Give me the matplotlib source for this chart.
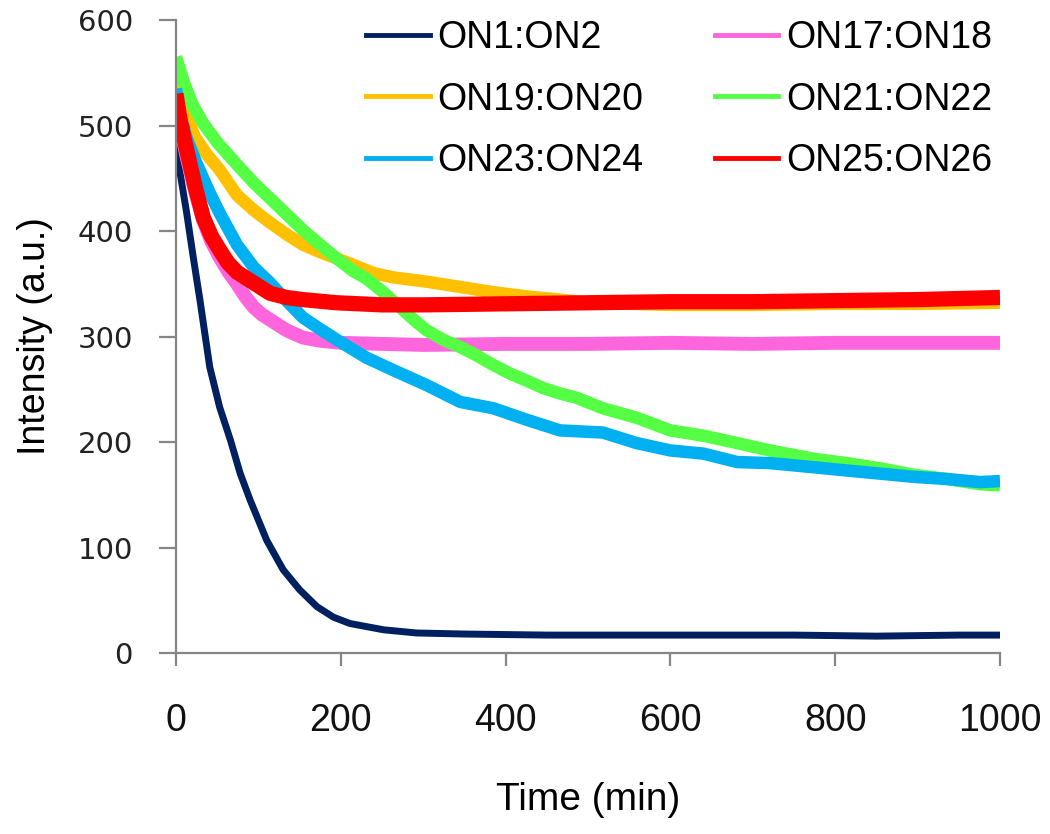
import matplotlib
matplotlib.use('Agg')
import matplotlib.pyplot as plt
from matplotlib.lines import Line2D

# Dados (tempo em min, intensidade em u.a.)
on1_t = [0, 5, 13, 21, 29, 41, 53, 66, 78, 90, 110, 130, 150, 171, 191, 211, 252, 292, 350, 450, 550, 650, 750, 850, 950, 1000]
on1_v = [489, 455, 417, 375, 335, 271, 233, 202, 170, 145, 107, 79, 60, 44, 34, 28, 22, 19, 18, 17, 17, 17, 17, 16, 17, 17]

on17_t = [0, 5, 13, 23, 33, 43, 53, 63, 74, 84, 94, 104, 114, 134, 154, 175, 200, 250, 300, 400, 500, 600, 700, 800, 900, 1000]
on17_v = [525, 500, 470, 438, 410, 390, 375, 362, 350, 338, 328, 321, 316, 306, 299, 296, 294, 293, 292, 293, 293, 294, 293, 294, 294, 294]

on19_t = [0, 10, 23, 38, 53, 74, 94, 114, 134, 154, 175, 195, 215, 240, 264, 304, 345, 385, 426, 466, 500, 600, 700, 800, 900, 1000]
on19_v = [545, 515, 489, 472, 458, 434, 420, 408, 397, 387, 380, 374, 368, 360, 356, 352, 347, 342, 338, 335, 332, 330, 330, 331, 331, 332]

on21_t = [0, 10, 20, 33, 50, 74, 94, 114, 134, 154, 175, 195, 215, 231, 250, 270, 290, 304, 324, 345, 365, 385, 405,
          426, 446, 466, 486, 518, 559, 600, 640, 681, 721, 775, 814, 855, 895, 935, 976, 1000]
on21_v = [565, 540, 520, 502, 484, 463, 446, 431, 416, 401, 387, 374, 362, 355, 343, 329, 315, 306, 297, 290, 282, 273, 265,
          258, 251, 246, 242, 232, 223, 211, 206, 199, 192, 184, 180, 175, 169, 165, 160, 159]

on23_t = [0, 5, 13, 25, 41, 53, 74, 94, 114, 134, 154, 175, 195, 231, 264, 304, 345, 385, 426, 466, 518, 559, 600,
          640, 681, 721, 775, 814, 855, 895, 935, 976, 1000]
on23_v = [535, 510, 488, 464, 436, 417, 387, 366, 351, 334, 318, 307, 297, 280, 268, 254, 238, 232, 221, 211, 209, 199, 192,
          189, 181, 180, 176, 173, 170, 167, 165, 162, 163]

on25_t = [0, 5, 13, 23, 33, 43, 53, 63, 74, 94, 114, 134, 154, 195, 250, 300, 400, 500, 600, 700, 800, 900, 1000]
on25_v = [530, 505, 477, 443, 413, 395, 382, 370, 361, 351, 341, 337, 335, 332, 330, 330, 331, 332, 333, 333, 334, 335, 337]

rotulos = ['ON1:ON2', 'ON17:ON18', 'ON19:ON20', 'ON21:ON22', 'ON23:ON24', 'ON25:ON26']
cores = ['#002060', '#ff66dd', '#ffc000', '#55ff44', '#00b0f0', '#ff0000']
series = [(on1_t, on1_v), (on17_t, on17_v), (on19_t, on19_v), (on21_t, on21_v), (on23_t, on23_v), (on25_t, on25_v)]
larguras = [5, 10, 9, 9, 9, 11]

cinza = '#868686'
fonte = ['Liberation Sans', 'DejaVu Sans']

fig = plt.figure(figsize=(10.5, 8.34), dpi=100)
ax = fig.add_axes([0.1676, 0.217, 0.7848, 0.759])

for (t, v), cor, lw in zip(series, cores, larguras):
    ax.plot(t, v, color=cor, linewidth=lw, solid_joinstyle='round', solid_capstyle='butt')

ax.set_xlim(0, 1000)
ax.set_ylim(0, 600)
ax.set_xticks(range(0, 1001, 200))
ax.set_yticks(range(0, 601, 100))

for lado in ['top', 'right']:
    ax.spines[lado].set_visible(False)
for lado in ['left', 'bottom']:
    ax.spines[lado].set_color(cinza)
    ax.spines[lado].set_linewidth(1.6)

ax.tick_params(axis='y', direction='out', length=12, width=1.6, color=cinza, pad=19,
               labelsize=21, labelcolor='#222222')
ax.tick_params(axis='x', direction='out', length=9, width=1.6, color=cinza, pad=27,
               labelsize=27, labelcolor='#111111')
for lab in ax.get_xticklabels():
    lab.set_family(fonte)

ax.set_xlabel('Time (min)', fontsize=28, family=fonte, labelpad=31)
ax.set_ylabel('Intensity (a.u.)', fontsize=27, family=fonte, labelpad=18)

# Legenda em duas colunas (ordem por linha como no original)
ordem = [0, 2, 4, 1, 3, 5]
handles = [Line2D([0], [0], color=cores[i], linewidth=3.5) for i in ordem]
fig.legend(handles, [rotulos[i] for i in ordem], ncol=2, frameon=False,
           loc='upper left', bbox_to_anchor=(366 / 1050, 1 - 20 / 834),
           borderaxespad=0, borderpad=0,
           prop={'family': fonte, 'size': 27},
           handlelength=1.7, handletextpad=0.2, columnspacing=1.9, labelspacing=0.68)

fig.savefig('out.png', dpi=100)
